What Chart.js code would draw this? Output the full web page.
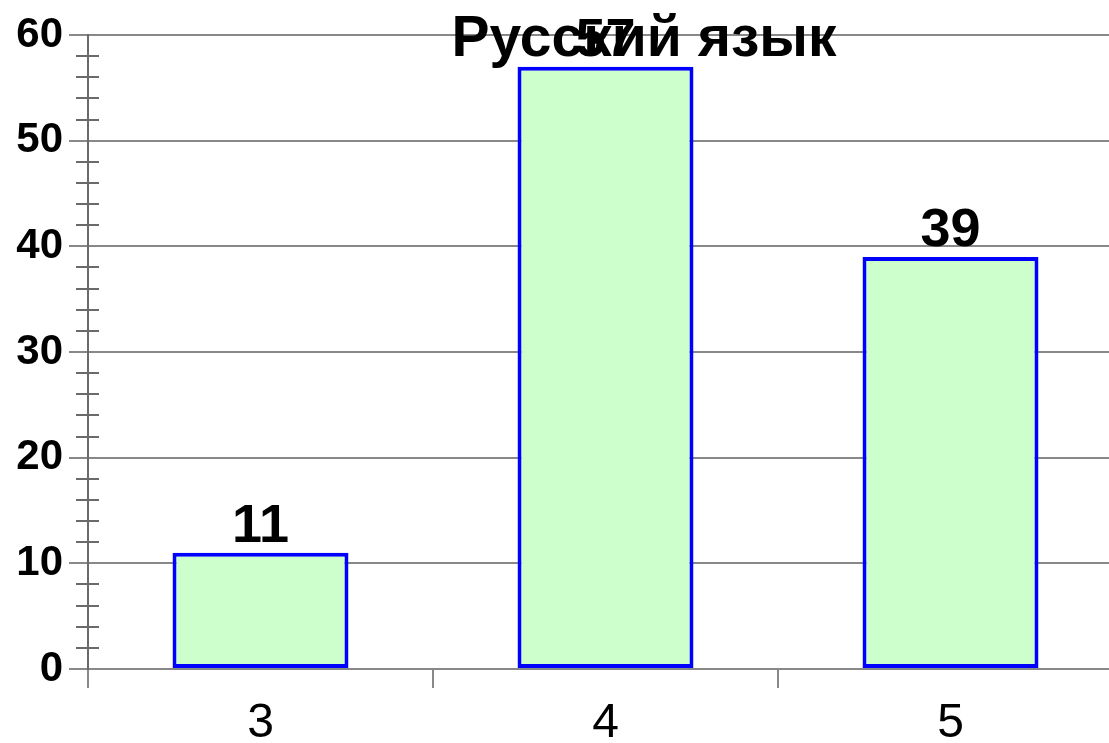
<!DOCTYPE html>
<html>
<head>
<meta charset="utf-8">
<script src="https://cdn.jsdelivr.net/npm/chart.js@4"></script>
<style>
  html, body { margin: 0; padding: 0; background: #fff; overflow: hidden; }
  #wrap { width: 1123px; height: 743px; }
</style>
</head>
<body>
<div id="wrap"><canvas id="chart" width="1123" height="743"></canvas></div>
<script>
const chartTitle = 'Русский язык';
const grades = ['3', '4', '5'];
const counts = [11, 57, 39];
const yMin = 0;
const yMax = 60;
const yStep = 10;
const minorStep = 2;

const FONT = '"Liberation Sans", Arial, sans-serif';

// little ticks on the y axis between the grid lines
const minorTicks = {
    id: 'minorTicks',
    afterDraw(chart) {
        const y = chart.scales.y;
        const ctx = chart.ctx;
        const ax = chart.chartArea.left;
        ctx.save();
        ctx.strokeStyle = '#6a6a6a';
        ctx.lineWidth = 2;
        for (let v = yMin; v <= yMax; v += minorStep) {
            if (v % yStep === 0) continue;
            const py = Math.round(y.getPixelForValue(v));
            ctx.beginPath();
            ctx.moveTo(ax - 12, py);
            ctx.lineTo(ax + 11, py);
            ctx.stroke();
        }
        ctx.restore();
    }
};

// value above each bar and the title on top of everything
const labelsAndTitle = {
    id: 'labelsAndTitle',
    afterDraw(chart) {
        const ctx = chart.ctx;
        const meta = chart.getDatasetMeta(0);
        ctx.save();
        ctx.fillStyle = '#000';
        ctx.textAlign = 'center';
        ctx.textBaseline = 'alphabetic';
        ctx.font = 'bold 54px ' + FONT;
        meta.data.forEach(function(bar, i) {
            ctx.fillText(String(counts[i]), bar.x, bar.y - 11);
        });
        ctx.font = 'bold 57px ' + FONT;
        ctx.fillText(chartTitle, 644, 56);
        ctx.restore();
    }
};

const ctx = document.getElementById('chart').getContext('2d');
new Chart(ctx, {
    type: 'bar',
    data: {
        labels: grades,
        datasets: [{
            data: counts,
            backgroundColor: '#ccffcc',
            borderColor: '#0000ff',
            borderWidth: 4,
            borderSkipped: false,
            barPercentage: 0.51,
            categoryPercentage: 1.0
        }]
    },
    options: {
        responsive: false,
        animation: false,
        layout: { padding: { top: 35, left: 0, right: 0, bottom: 0 } },
        plugins: {
            legend: { display: false },
            tooltip: { enabled: false },
            title: { display: false }
        },
        scales: {
            x: {
                grid: {
                    offset: true,
                    drawOnChartArea: false,
                    tickLength: 19,
                    color: '#888',
                    lineWidth: 2
                },
                border: { display: true, color: '#888', width: 2 },
                ticks: {
                    color: '#000',
                    padding: 7,
                    font: { family: FONT, size: 48 }
                },
                afterFit(scale) { scale.height = 74; }
            },
            y: {
                min: yMin,
                max: yMax,
                ticks: {
                    stepSize: yStep,
                    color: '#000',
                    padding: 6,
                    font: { family: FONT, size: 42, weight: 'bold' }
                },
                grid: {
                    color: '#888',
                    lineWidth: 2,
                    tickLength: 19
                },
                border: { display: true, color: '#6a6a6a', width: 2 },
                afterFit(scale) { scale.width = 88; }
            }
        }
    },
    plugins: [minorTicks, labelsAndTitle]
});
</script>
</body>
</html>
